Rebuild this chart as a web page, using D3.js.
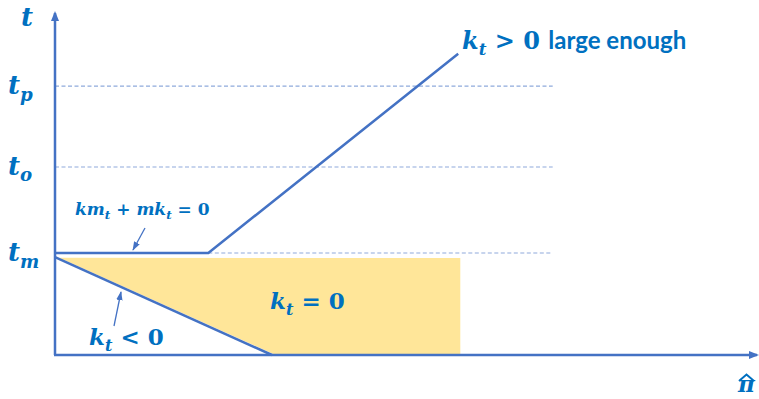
<!DOCTYPE html>
<html>
<head>
<meta charset="utf-8">
<script src="https://cdn.jsdelivr.net/npm/d3@7"></script>
<style>
  body { margin: 0; background: #fff; }
  svg { display: block; }
  .math { font-family: "DejaVu Serif", "Liberation Serif", serif; font-weight: bold; font-style: italic; fill: #0070C0; }
  .up { font-style: normal; }
  .sans { font-family: Lato, "Open Sans", sans-serif; font-weight: bold; font-style: normal; fill: #0070C0; }
</style>
</head>
<body>
<svg id="chart" width="759" height="399"></svg>
<script>
// levels on the t axis
const levelNames = ["m", "o", "p"]
const levelValues = [30, 55.3, 79.1]
const dashEnd = 71.1

// k_t > 0 path: flat at t_m then rising
const risePi = [0, 21.9, 57.6]
const riseT = [30, 30, 88.6]

// k_t < 0 line
const fallPi = [0, 31]
const fallT = [28.8, 0]

// k_t = 0 region (yellow)
const zonePi = [0.6, 57.9, 57.9, 31.5]
const zoneT = [28.6, 28.5, 0, 0]

const x = d3.scaleLinear().domain([0, 100]).range([55, 755])
const y = d3.scaleLinear().domain([0, 100]).range([355, 15])

const blue = "#4472C4"
const text = "#0070C0"
const svg = d3.select("#chart")

const defs = svg.append("defs")
defs.append("marker")
  .attr("id", "axisHead")
  .attr("viewBox", "0 0 10 10")
  .attr("refX", 8).attr("refY", 5)
  .attr("markerWidth", 4).attr("markerHeight", 4)
  .attr("orient", "auto")
  .append("path").attr("d", "M0,1 L10,5 L0,9 Z").attr("fill", blue)
defs.append("marker")
  .attr("id", "smallHead")
  .attr("viewBox", "0 0 10 10")
  .attr("refX", 9).attr("refY", 5)
  .attr("markerWidth", 7).attr("markerHeight", 7)
  .attr("orient", "auto")
  .append("path").attr("d", "M0,1.5 L10,5 L0,8.5 Z").attr("fill", blue)

// yellow zone
svg.append("polygon")
  .attr("points", zonePi.map((p, i) => [x(p), y(zoneT[i])].join(",")).join(" "))
  .attr("fill", "#FFE699")

// dashed levels
svg.append("g").selectAll("line")
  .data(levelValues)
  .join("line")
  .attr("x1", (d, i) => i === 0 ? x(risePi[1]) : x(0))
  .attr("x2", x(dashEnd))
  .attr("y1", d => y(d)).attr("y2", d => y(d))
  .attr("stroke", "#8FAADC").attr("stroke-width", 1.2)
  .attr("stroke-dasharray", "4,2.5")

const line = d3.line().x(d => x(d[0])).y(d => y(d[1]))

svg.append("path")
  .attr("d", line(risePi.map((p, i) => [p, riseT[i]])))
  .attr("fill", "none").attr("stroke", blue).attr("stroke-width", 2.5)

svg.append("path")
  .attr("d", line(fallPi.map((p, i) => [p, fallT[i]])))
  .attr("fill", "none").attr("stroke", blue).attr("stroke-width", 2.5)

// axes
svg.append("line")
  .attr("x1", x(0)).attr("y1", y(0)).attr("x2", x(0)).attr("y2", y(100) - 2)
  .attr("stroke", blue).attr("stroke-width", 2.5).attr("marker-end", "url(#axisHead)")
svg.append("line")
  .attr("x1", x(0) - 1).attr("y1", y(0)).attr("x2", x(100) + 2).attr("y2", y(0))
  .attr("stroke", blue).attr("stroke-width", 2.5).attr("marker-end", "url(#axisHead)")

// label helper: parts are {t, sub, up (upright), cls}
function label(px, py, size, parts) {
  const t = svg.append("text").attr("class", "math").attr("x", px).attr("y", py).attr("font-size", size)
  let lowered = false
  parts.forEach(p => {
    const s = t.append("tspan").text(p.t)
    if (p.sub) {
      s.attr("font-size", size * 0.7)
      if (!lowered) s.attr("dy", size * 0.25)
      lowered = true
    } else if (lowered) {
      s.attr("dy", -size * 0.25)
      lowered = false
    }
    if (p.up) s.attr("class", "up")
    if (p.cls) s.attr("class", p.cls)
  })
  return t
}

// axis labels
label(21, 26, 26, [{ t: "t" }])
levelNames.forEach((n, i) => {
  label(8, y(levelValues[i]) + 8, 26, [{ t: "t" }, { t: n, sub: true }])
})

// pi hat
svg.append("text").attr("class", "math").attr("x", 738).attr("y", 392).attr("font-size", 23).text("π")
svg.append("path").attr("d", "M739,381 L746.5,374.5 L754,381")
  .attr("fill", "none").attr("stroke", text).attr("stroke-width", 2)

// annotations
label(75, 215, 17, [{ t: "km" }, { t: "t", sub: true }, { t: " + ", up: true }, { t: "mk" }, { t: "t", sub: true }, { t: " = 0", up: true }])
svg.append("line").attr("x1", 145).attr("y1", 228).attr("x2", 133).attr("y2", 250)
  .attr("stroke", blue).attr("stroke-width", 1.3).attr("marker-end", "url(#smallHead)")

label(270, 309, 23, [{ t: "k" }, { t: "t", sub: true }, { t: " = 0", up: true }])

label(89, 345, 23, [{ t: "k" }, { t: "t", sub: true }, { t: " < 0", up: true }])
svg.append("line").attr("x1", 114).attr("y1", 326).attr("x2", 121).attr("y2", 292)
  .attr("stroke", blue).attr("stroke-width", 1.3).attr("marker-end", "url(#smallHead)")

label(462, 49, 24, [{ t: "k" }, { t: "t", sub: true }, { t: " > 0 ", up: true }, { t: "large enough", cls: "sans" }])
</script>
</body>
</html>
